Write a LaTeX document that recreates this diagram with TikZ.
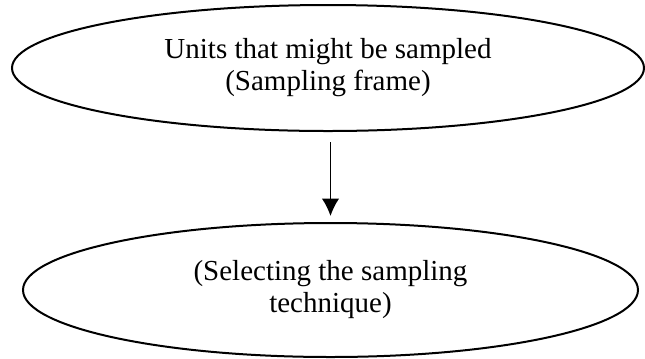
\documentclass[tikz,border=0pt]{standalone}
\usepackage{fontspec}
\setmainfont{Liberation Serif}
\usetikzlibrary{shapes.geometric,arrows.meta}

\tikzset{
  stage/.style={ellipse,draw,line width=0.8pt,inner sep=0pt,align=center,
    font=\fontsize{11.6}{12.8}\selectfont},
  flow/.style={-{Latex[length=7pt,width=7pt]},line width=0.6pt}
}

\begin{document}
\begin{tikzpicture}
      % Fix the page size
      \useasboundingbox (0,0) rectangle (258pt,143.2pt);
      % Draw the frame
      \node [stage,minimum width=252.8pt,minimum height=50.4pt] (frame)
        at (131.2pt,116pt) {Units that might be sampled\\(Sampling frame)};
      % Draw the technique
      \node [stage,minimum width=246pt,minimum height=53.6pt] (technique)
        at (132.2pt,27.2pt) {(Selecting the sampling\\technique)};
      % Draw the arrow
      \draw[flow,shorten <=4pt,shorten >=2.4pt] (technique.north |- frame.south) -- (technique.north);
    \end{tikzpicture}
\end{document}
